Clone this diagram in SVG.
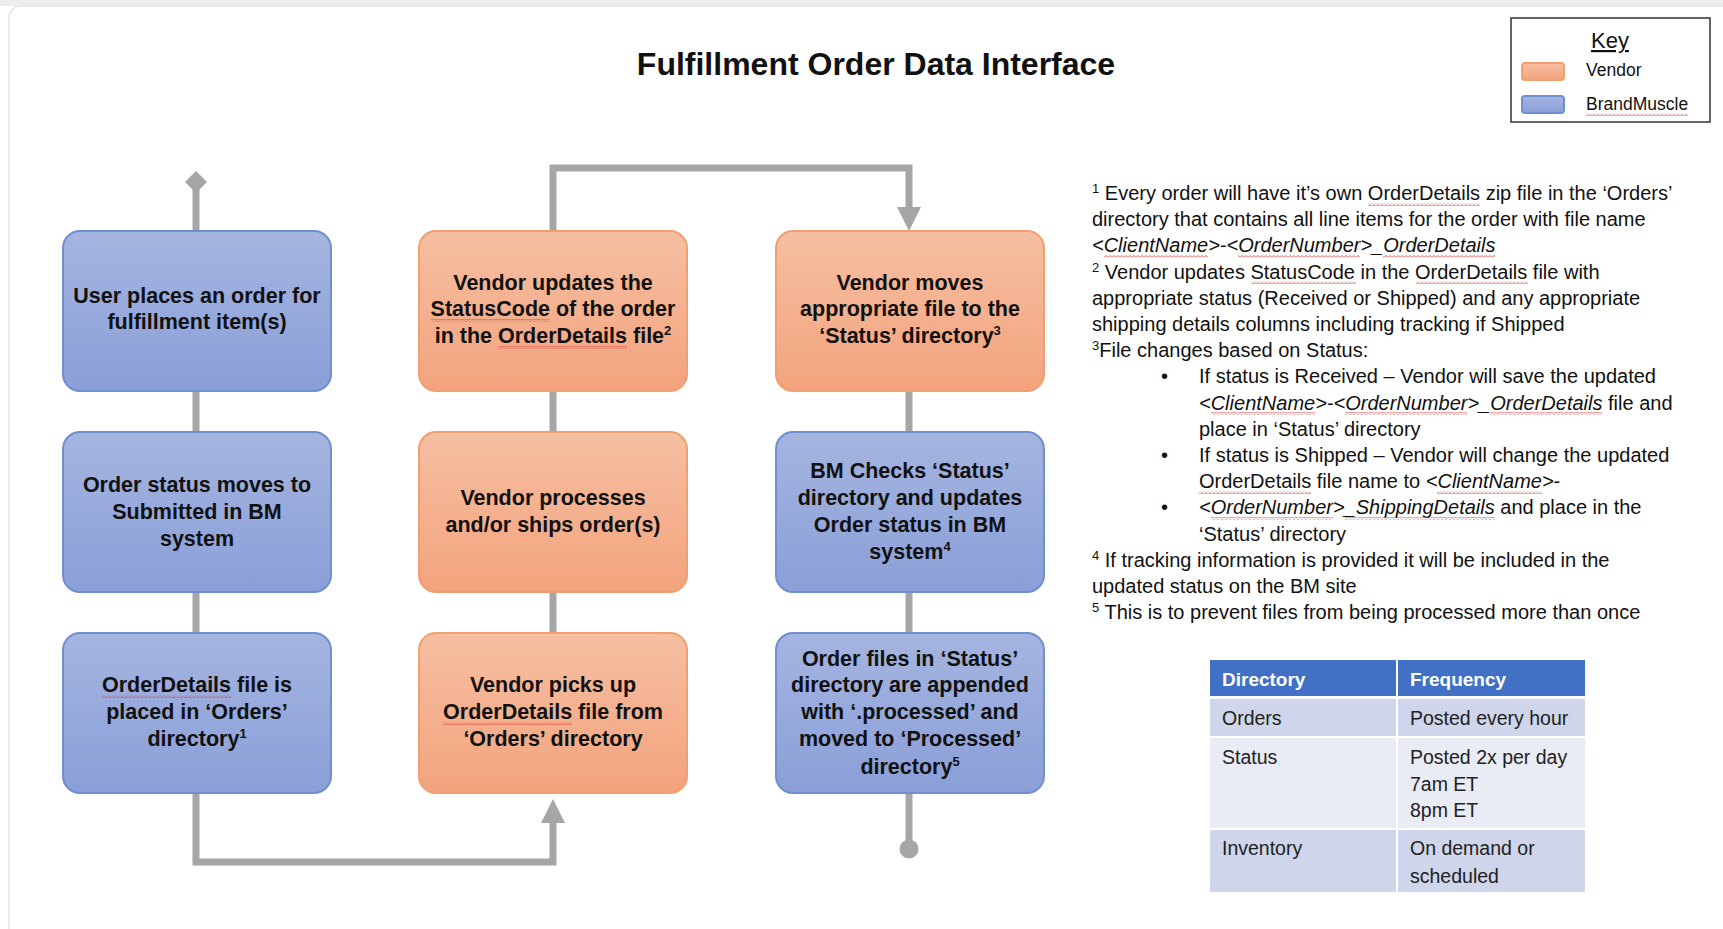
<svg xmlns="http://www.w3.org/2000/svg" width="1723" height="929" viewBox="0 0 1723 929">
<style>
.bt{font-family:"Liberation Sans",Arial,sans-serif;font-weight:bold;font-size:21.5px;fill:#111;text-anchor:middle}
.nt{font-family:"Liberation Sans",Arial,sans-serif;font-size:20px;fill:#111}
.tt{font-family:"Liberation Sans",Arial,sans-serif;font-size:19.5px;fill:#222}
.th{font-family:"Liberation Sans",Arial,sans-serif;font-size:19px;font-weight:bold;fill:#fff}
.kt{font-family:"Liberation Sans",Arial,sans-serif;font-size:17.5px;fill:#111}
.kh{font-family:"Liberation Sans",Arial,sans-serif;font-size:22px;fill:#111;text-anchor:middle;text-decoration:underline}
.blue{fill:url(#gb);stroke:#6f8fcf;stroke-width:2}
.orange{fill:url(#go);stroke:#f0a070;stroke-width:2}
.conn{fill:none;stroke:#a6a6a6;stroke-width:7}
.it{font-style:italic}
.sup{font-size:13px}
.wv{fill:url(#wavy)}
</style>
<defs>
<linearGradient id="gb" x1="0" y1="0" x2="0" y2="1"><stop offset="0" stop-color="#a5b5e0"/><stop offset="1" stop-color="#8a9fd8"/></linearGradient>
<linearGradient id="go" x1="0" y1="0" x2="0" y2="1"><stop offset="0" stop-color="#f6bfa2"/><stop offset="1" stop-color="#f3a37d"/></linearGradient>
<pattern id="wavy" width="4" height="3" patternUnits="userSpaceOnUse"><path d="M0,2.5 L2,0.5 L4,2.5" fill="none" stroke="#e03c3c" stroke-width="0.9"/></pattern>
<marker id="arrow" markerUnits="userSpaceOnUse" markerWidth="26" markerHeight="26" viewBox="0 -13 26 26" refX="0" refY="0" orient="auto"><path d="M0,-12 L24,0 L0,12 z" fill="#a6a6a6"/></marker>
<marker id="diamond" markerUnits="userSpaceOnUse" markerWidth="24" markerHeight="24" viewBox="-12 -12 24 24" refX="0" refY="0" orient="auto"><path d="M0,-11 L11,0 L0,11 L-11,0 z" fill="#a6a6a6"/></marker>
<marker id="dot" markerUnits="userSpaceOnUse" markerWidth="22" markerHeight="22" viewBox="-11 -11 22 22" refX="0" refY="0" orient="auto"><circle r="9.5" fill="#a6a6a6"/></marker>
</defs>
<rect x="0" y="0" width="1723" height="929" fill="#ffffff"/>
<rect x="0" y="0" width="1723" height="6" fill="#ececec"/>
<rect x="9" y="6" width="1730" height="940" rx="12" fill="#ffffff" stroke="#e4e4e4" stroke-width="1.5"/>

<text x="876" y="75" font-family="Liberation Sans, Arial, sans-serif" font-size="32" font-weight="bold" text-anchor="middle" fill="#111">Fulfillment Order Data Interface</text>

<g id="key">
<rect x="1511" y="18" width="199" height="104" fill="#fff" stroke="#333" stroke-width="1.5"/>
<text x="1610" y="48" class="kh">Key</text>
<rect x="1522" y="63" width="42" height="17" rx="3" class="orange" stroke-width="1.5"/>
<text x="1586" y="76" class="kt">Vendor</text>
<rect x="1522" y="96" width="42" height="17" rx="3" class="blue" stroke-width="1.5"/>
<text x="1586" y="110" class="kt">BrandMuscle</text>
</g>

<g id="connectors">
<path class="conn" d="M196,231 V182" marker-end="url(#diamond)"/>
<path class="conn" d="M196,391 V432 M196,592 V633"/>
<path class="conn" d="M196,793 V862 H553 V823" marker-end="url(#arrow)"/>
<path class="conn" d="M553,633 V592 M553,432 V391"/>
<path class="conn" d="M553,231 V168 H909 V207" marker-end="url(#arrow)"/>
<path class="conn" d="M909,391 V432 M909,592 V633"/>
<path class="conn" d="M909,793 V849" marker-end="url(#dot)"/>
</g>

<g id="n1"><rect x="63" y="231" width="268" height="160" rx="17" class="blue"/>
<text class="bt"><tspan x="197" y="303">User places an order for</tspan><tspan x="197" y="329">fulfillment item(s)</tspan></text></g>
<g id="n2"><rect x="63" y="432" width="268" height="160" rx="17" class="blue"/>
<text class="bt"><tspan x="197" y="492">Order status moves to</tspan><tspan x="197" y="518.5">Submitted in BM</tspan><tspan x="197" y="546">system</tspan></text></g>
<g id="n3"><rect x="63" y="633" width="268" height="160" rx="17" class="blue"/>
<text class="bt"><tspan x="197" y="692">OrderDetails file is</tspan><tspan x="197" y="719">placed in ‘Orders’</tspan><tspan x="197" y="746">directory<tspan class="sup" dy="-8">1</tspan></tspan></text></g>

<g id="n4"><rect x="419" y="633" width="268" height="160" rx="17" class="orange"/>
<text class="bt"><tspan x="553" y="692">Vendor picks up</tspan><tspan x="553" y="719">OrderDetails file from</tspan><tspan x="553" y="746">‘Orders’ directory</tspan></text></g>
<g id="n5"><rect x="419" y="432" width="268" height="160" rx="17" class="orange"/>
<text class="bt"><tspan x="553" y="505">Vendor processes</tspan><tspan x="553" y="532">and/or ships order(s)</tspan></text></g>
<g id="n6"><rect x="419" y="231" width="268" height="160" rx="17" class="orange"/>
<text class="bt"><tspan x="553" y="290">Vendor updates the</tspan><tspan x="553" y="316">StatusCode of the order</tspan><tspan x="553" y="343">in the OrderDetails file<tspan class="sup" dy="-8">2</tspan></tspan></text></g>

<g id="n7"><rect x="776" y="231" width="268" height="160" rx="17" class="orange"/>
<text class="bt"><tspan x="910" y="290">Vendor moves</tspan><tspan x="910" y="316">appropriate file to the</tspan><tspan x="910" y="343">‘Status’ directory<tspan class="sup" dy="-8">3</tspan></tspan></text></g>
<g id="n8"><rect x="776" y="432" width="268" height="160" rx="17" class="blue"/>
<text class="bt"><tspan x="910" y="478">BM Checks ‘Status’</tspan><tspan x="910" y="504.5">directory and updates</tspan><tspan x="910" y="531.5">Order status in BM</tspan><tspan x="910" y="559">system<tspan class="sup" dy="-8">4</tspan></tspan></text></g>
<g id="n9"><rect x="776" y="633" width="268" height="160" rx="17" class="blue"/>
<text class="bt"><tspan x="910" y="665.5">Order files in ‘Status’</tspan><tspan x="910" y="692">directory are appended</tspan><tspan x="910" y="719">with ‘.processed’ and</tspan><tspan x="910" y="746">moved to ‘Processed’</tspan><tspan x="910" y="773.5">directory<tspan class="sup" dy="-8">5</tspan></tspan></text></g>

<g id="notes" class="nt">
<text x="1092" y="200"><tspan class="sup" dy="-7">1</tspan><tspan dy="7"> Every order will have it’s own OrderDetails zip file in the ‘Orders’</tspan></text>
<text x="1092" y="226.2">directory that contains all line items for the order with file name</text>
<text x="1092" y="252.4" class="it">&lt;ClientName&gt;-&lt;OrderNumber&gt;_OrderDetails</text>
<text x="1092" y="278.6"><tspan class="sup" dy="-7">2</tspan><tspan dy="7"> Vendor updates StatusCode in the OrderDetails file with</tspan></text>
<text x="1092" y="304.8">appropriate status (Received or Shipped) and any appropriate</text>
<text x="1092" y="331">shipping details columns including tracking if Shipped</text>
<text x="1092" y="357.2"><tspan class="sup" dy="-7">3</tspan><tspan dy="7">File changes based on Status:</tspan></text>
<text x="1161" y="383.4">•</text>
<text x="1199" y="383.4">If status is Received – Vendor will save the updated</text>
<text x="1199" y="409.6"><tspan class="it">&lt;ClientName&gt;-&lt;OrderNumber&gt;_OrderDetails</tspan> file and</text>
<text x="1199" y="435.8">place in ‘Status’ directory</text>
<text x="1161" y="462">•</text>
<text x="1199" y="462">If status is Shipped – Vendor will change the updated</text>
<text x="1199" y="488.2">OrderDetails file name to <tspan class="it">&lt;ClientName&gt;</tspan>-</text>
<text x="1161" y="514.4">•</text>
<text x="1199" y="514.4"><tspan class="it">&lt;OrderNumber&gt;_ShippingDetails</tspan> and place in the</text>
<text x="1199" y="540.6">‘Status’ directory</text>
<text x="1092" y="566.8"><tspan class="sup" dy="-7">4</tspan><tspan dy="7"> If tracking information is provided it will be included in the</tspan></text>
<text x="1092" y="593">updated status on the BM site</text>
<text x="1092" y="619.2"><tspan class="sup" dy="-7">5</tspan><tspan dy="7"> This is to prevent files from being processed more than once</tspan></text>
</g>

<g id="spellcheck">
<rect class="wv" x="1586" y="113" width="102" height="3"/>
<rect class="wv" x="431" y="319" width="119" height="3"/>
<rect class="wv" x="498" y="346" width="129" height="3"/>
<rect class="wv" x="102" y="695" width="129" height="3"/>
<rect class="wv" x="443" y="722" width="129" height="3"/>
<rect class="wv" x="1368" y="203" width="112" height="3"/>
<rect class="wv" x="1104" y="255" width="104" height="3"/>
<rect class="wv" x="1238" y="255" width="122" height="3"/>
<rect class="wv" x="1383" y="255" width="112" height="3"/>
<rect class="wv" x="1251" y="281" width="105" height="3"/>
<rect class="wv" x="1416" y="281" width="112" height="3"/>
<rect class="wv" x="1211" y="412" width="104" height="3"/>
<rect class="wv" x="1345" y="412" width="122" height="3"/>
<rect class="wv" x="1490" y="412" width="112" height="3"/>
<rect class="wv" x="1199" y="491" width="112" height="3"/>
<rect class="wv" x="1437" y="491" width="105" height="3"/>
<rect class="wv" x="1211" y="517" width="122" height="3"/>
<rect class="wv" x="1345" y="517" width="150" height="3"/>
</g>

<g id="table">
<rect x="1210" y="660" width="186" height="36" fill="#4170c4"/>
<rect x="1398" y="660" width="187" height="36" fill="#4170c4"/>
<rect x="1210" y="699" width="186" height="37" fill="#cfd5ea"/>
<rect x="1398" y="699" width="187" height="37" fill="#cfd5ea"/>
<rect x="1210" y="738" width="186" height="90" fill="#e9ebf5"/>
<rect x="1398" y="738" width="187" height="90" fill="#e9ebf5"/>
<rect x="1210" y="830" width="186" height="62" fill="#cfd5ea"/>
<rect x="1398" y="830" width="187" height="62" fill="#cfd5ea"/>
<text x="1222" y="686" class="th">Directory</text>
<text x="1410" y="686" class="th">Frequency</text>
<text x="1222" y="725" class="tt">Orders</text>
<text x="1410" y="725" class="tt">Posted every hour</text>
<text x="1222" y="764" class="tt">Status</text>
<text class="tt"><tspan x="1410" y="764">Posted 2x per day</tspan><tspan x="1410" y="790.5">7am ET</tspan><tspan x="1410" y="817">8pm ET</tspan></text>
<text x="1222" y="855" class="tt">Inventory</text>
<text class="tt"><tspan x="1410" y="855">On demand or</tspan><tspan x="1410" y="883">scheduled</tspan></text>
</g>
</svg>
